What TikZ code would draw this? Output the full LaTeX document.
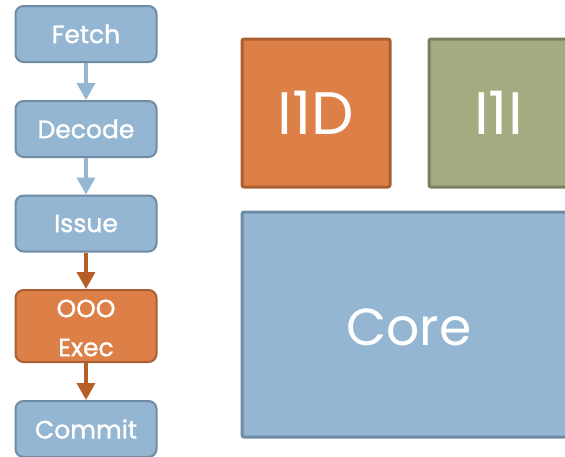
\documentclass[tikz,border=0pt]{standalone}
\usepackage{fontspec}
\setmainfont{Poppins}
\newfontfamily\stagefont{Poppins}[FakeBold=1.3]
\usetikzlibrary{arrows.meta}
\definecolor{blueFill}{HTML}{94B6D2}
\definecolor{blueEdge}{HTML}{6F8CA4}
\definecolor{orangeFill}{HTML}{DD8047}
\definecolor{orangeEdge}{HTML}{AA5F33}
\definecolor{oliveFill}{HTML}{A5AB81}
\definecolor{oliveEdge}{HTML}{7B7F60}
\definecolor{rustArrow}{HTML}{B65D28}
\tikzset{
  stage/.style={draw=blueEdge, fill=blueFill, line width=2pt, rounded corners=8pt,
    minimum width=141pt, minimum height=56pt, inner sep=0pt, text=white,
    font=\stagefont\fontsize{25}{39}\selectfont, align=center},
  hotstage/.style={stage, draw=orangeEdge, fill=orangeFill},
  flow/.style={line width=3.5pt, draw=blueFill, -{Triangle[length=17pt,width=18pt]}},
  hotflow/.style={flow, draw=rustArrow},
  unit/.style={line width=3pt, rounded corners=2pt, inner sep=0pt, text=white},
  biglabel/.style={text=white, inner sep=0pt, font=\fontsize{60}{66}\selectfont},
}
\begin{document}
\begin{tikzpicture}[x=1pt, y=-1pt]
  \useasboundingbox (0,0) rectangle (565,456);
  \clip (0,0) rectangle (565,456);

  % pipeline stages
  \node[stage] (fetch) at (86,34) {Fetch};
  \node[stage] (decode) at (86,129) {Decode};
  \node[stage] (issue) at (86,223.5) {Issue};
  \node[hotstage, minimum height=72pt] (exec) at (86,326) {};
  \node[text=white, font=\stagefont\fontsize{25}{39}\selectfont, align=center]
    (exectext) at (86,328) {OOO\\Exec};
  \node[stage] (commit) at (86,429) {Commit};

  \draw[flow] (fetch) -- (decode);
  \draw[flow] (decode) -- (issue);
  \draw[hotflow] (issue) -- (exec);
  \draw[hotflow] (exec) -- (commit);

  % core layout blocks
  \draw[unit, draw=orangeEdge, fill=orangeFill] (242,39) rectangle (390,187);
  \node[biglabel] (l1d) at (316,113) {I1D};
  \draw[unit, draw=oliveEdge, fill=oliveFill] (429,39) rectangle (600,187);
  \node[biglabel, anchor=west] (l1i) at (474,113) {I1I};
  \draw[unit, draw=blueEdge, fill=blueFill] (242,212) rectangle (600,437);
  \node[biglabel, font=\fontsize{52}{58}\selectfont] (core) at (409,327) {Core};
\end{tikzpicture}
\end{document}
